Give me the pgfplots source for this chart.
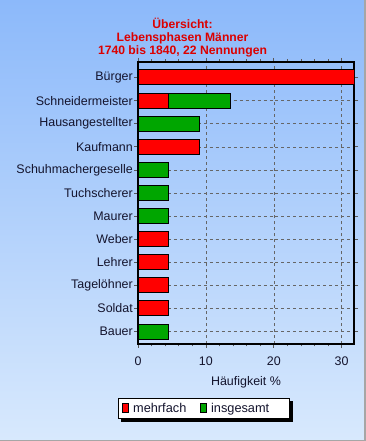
\documentclass[border=0pt]{standalone}
\usepackage{pgfplots}
\pgfplotsset{compat=1.18}
\usepackage{fontspec}
\setmainfont{Liberation Sans}
\pgfdeclarelayer{bg}
\pgfdeclarelayer{shadowlayer}
\pgfsetlayers{bg,shadowlayer,main}
\definecolor{bgtop}{RGB}{140,185,250}
\definecolor{bgbot}{RGB}{216,233,253}
\definecolor{barred}{RGB}{255,0,0}
\definecolor{bargreen}{RGB}{0,166,0}
\definecolor{titlered}{RGB}{220,0,0}
\definecolor{txt}{RGB}{20,20,45}
\begin{document}
\begin{tikzpicture}[x=1bp,y=1bp]
\useasboundingbox (0,0) rectangle (365,441);
\begin{pgfonlayer}{bg}
\shade[top color=bgtop, bottom color=bgbot] (0,0) rectangle (365,441);
\draw[gray!70, line width=1.5bp] (365,0) -- (0,0);
\draw[gray!70, line width=1.5bp] (365,0) -- (365,441);
\end{pgfonlayer}
\node[font=\fontsize{12.2}{13}\selectfont\bfseries, text=titlered, align=center, anchor=center] at (182.5,403) {Übersicht:\\Lebensphasen Männer\\1740 bis 1840, 22 Nennungen};
\begin{axis}[
  at={(138bp,97bp)}, anchor=south west,
  scale only axis, width=216bp, height=282bp,
  xbar stacked, bar width=15bp,
  xmin=0, xmax=31.82,
  ymin=-0.54, ymax=11.67,
  ytick={0,...,11},
  yticklabels={Bauer,Soldat,Tagelöhner,Lehrer,Weber,Maurer,Tuchscherer,Schuhmachergeselle,Kaufmann,Hausangestellter,Schneidermeister,Bürger},
  xtick={0,10,20,30},
  minor x tick num=4,
  xmajorgrids, ymajorgrids,
  grid style={dashed, gray!80!black, line width=0.5bp},
  axis line style={black, line width=1.5bp},
  tick align=outside,
  major tick length=4bp, minor tick length=2.5bp,
  tick style={gray!70!black, line width=0.6bp},
  every tick label/.append style={font=\fontsize{12.5}{14}\selectfont, text=txt},
  /pgf/number format/assume math mode=true,
  yticklabel style={inner sep=1bp},
  xticklabel style={yshift=-5bp},
  xlabel={Häufigkeit \%},
  xlabel style={font=\fontsize{12.5}{14}\selectfont, text=txt, yshift=-4bp},
  legend columns=2,
  legend style={name=leg, at={(-0.0926,-0.1915)}, anchor=north west, draw=black, line width=0.8bp, fill=white,
    font=\fontsize{12.8}{14}\selectfont, text=txt,
    inner ysep=2.5bp, inner xsep=4bp,
    /tikz/every odd column/.append style={column sep=2bp},
    /tikz/every even column/.append style={column sep=12bp}},
  legend image code/.code={\draw[#1, draw=black, line width=0.8bp] (0bp,-4bp) rectangle (6bp,5bp);},
]
\addplot[fill=barred, draw=black, line width=1bp] coordinates {
 (0,0) (4.545,1) (4.545,2) (4.545,3) (4.545,4) (0,5) (0,6) (0,7) (9.09,8) (0,9) (4.545,10) (31.82,11)};
\addplot[fill=bargreen, draw=black, line width=1bp] coordinates {
 (4.545,0) (0,1) (0,2) (0,3) (0,4) (4.545,5) (4.545,6) (4.545,7) (0,8) (9.09,9) (9.09,10) (0,11)};
\legend{mehrfach,{insgesamt\rule{14bp}{0pt}}}
\end{axis}
\begin{pgfonlayer}{shadowlayer}
\fill[black] ([xshift=3bp,yshift=-3bp]leg.south west) rectangle ([xshift=3bp,yshift=-3bp]leg.north east);
\end{pgfonlayer}
\end{tikzpicture}
\end{document}
